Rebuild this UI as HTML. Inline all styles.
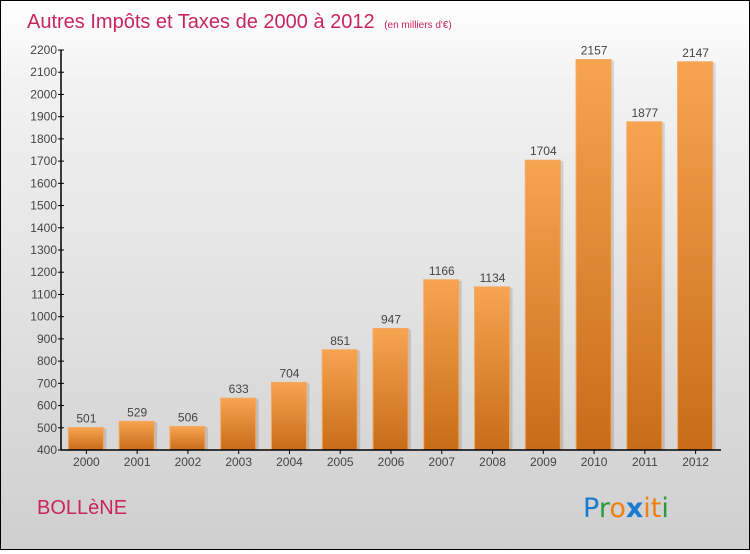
<!DOCTYPE html>
<html><head><meta charset="utf-8"><style>
html,body{margin:0;padding:0}
body{width:750px;height:550px;overflow:hidden;font-family:"Liberation Sans",sans-serif}
#wrap{position:relative;width:748px;height:548px;border:1px solid #000;background:linear-gradient(#ffffff,#f2f2f2 15%,#cfcfcf)}
</style></head><body>
<div id="wrap">
<svg id="chart" width="748" height="548">
<defs>
<linearGradient id="bg" x1="0" y1="0" x2="0" y2="1"><stop offset="0" stop-color="#f7a450"/><stop offset="1" stop-color="#c86c1a"/></linearGradient>
</defs>
<text x="26" y="27" font-size="20" fill="#c8265a">Autres Impôts et Taxes de 2000 à 2012 <tspan font-size="10" dx="4">(en milliers d'€)</tspan></text>
<g id="plot"></g>
<text x="36" y="513" font-size="20" fill="#c8265a">BOLLèNE</text>
<g font-size="27" font-family="'DejaVu Sans',sans-serif">
<text x="582" y="516"><tspan fill="#1a7ad0">P</tspan><tspan fill="#2a9a3a">r</tspan><tspan fill="#f08010">o</tspan><tspan fill="#1a7ad0" font-weight="bold">x</tspan><tspan fill="#f08010">i</tspan><tspan fill="#f08010">t</tspan><tspan fill="#2a9a3a">i</tspan></text>
</g>
</svg>
</div>
<script>
const years=["2000","2001","2002","2003","2004","2005","2006","2007","2008","2009","2010","2011","2012"];
const values=[501,529,506,633,704,851,947,1166,1134,1704,2157,1877,2147];
const yTicks=[400,500,600,700,800,900,1000,1100,1200,1300,1400,1500,1600,1700,1800,1900,2000,2100,2200];
const NS="http://www.w3.org/2000/svg";
const g=document.getElementById('plot');
const x0=60,x1=720,yTop=49,yBot=449,vMin=400,vMax=2200;
const band=(x1-x0)/years.length;
function y(v){return yBot-(v-vMin)/(vMax-vMin)*(yBot-yTop);}
function xc(i){return x0+band*(i+0.5);}
function mk(t,a){const e=document.createElementNS(NS,t);for(const k in a)e.setAttribute(k,a[k]);g.appendChild(e);return e;}
values.forEach((v,i)=>{
 const sh=mk('rect',{x:xc(i)-17+2,y:y(v)+1,width:35,height:yBot-y(v)-1,fill:'#000',opacity:0.12});
 
 
 const r=mk('rect',{x:xc(i)-18,y:y(v),width:35,height:yBot-y(v),fill:'url(#bg)',stroke:'#f5a860','stroke-width':1});
 
 
 const t=mk('text',{x:xc(i),y:y(v)-5,'text-anchor':'middle','font-size':12,fill:'#444'});
 t.textContent=v;
 
 
 const xl=mk('text',{x:xc(i),y:yBot+16,'text-anchor':'middle','font-size':12,fill:'#444'});
 xl.textContent=years[i];
 
 
 const xt=mk('line',{x1:xc(i),x2:xc(i),y1:yBot,y2:yBot+4,stroke:'#000'});
 
 
});
yTicks.forEach(v=>{
 const l=mk('line',{x1:x0-3,x2:x0+3,y1:y(v),y2:y(v),stroke:'#000'});
 
 
 const t=mk('text',{x:x0-4,y:y(v)+4,'text-anchor':'end','font-size':12,fill:'#444'});
 t.textContent=v;
 
 
});
const ya=mk('line',{x1:x0,x2:x0,y1:yTop,y2:yBot,stroke:'#000','stroke-width':1.5});


const xa=mk('line',{x1:x0,x2:x1,y1:yBot,y2:yBot,stroke:'#000','stroke-width':1.5});


</script>
</body></html>
